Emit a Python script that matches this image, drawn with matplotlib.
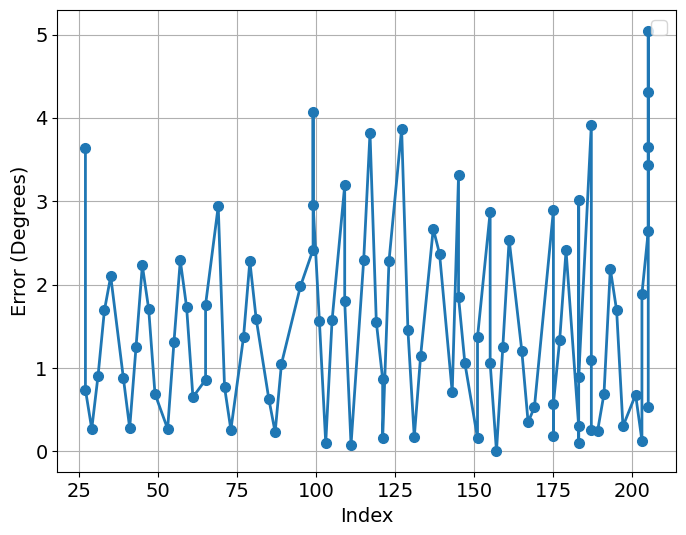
import matplotlib
matplotlib.use("Agg")
import matplotlib.pyplot as plt

# index / error pairs, in plotting order
index = [27, 27, 29, 31, 33, 35, 39, 41, 43, 45, 47, 49, 53, 55, 57, 59, 61, 65, 65,
         69, 71, 73, 77, 79, 81, 85, 87, 89, 95, 99, 99, 99, 101, 103, 105, 109, 109,
         111, 115, 117, 119, 121, 121, 123, 127, 129, 131, 133, 137, 139, 143, 145, 145,
         147, 151, 151, 155, 155, 157, 159, 161, 165, 167, 169, 175, 175, 175, 177, 179,
         183, 183, 183, 183, 187, 187, 187, 189, 191, 193, 195, 197, 201, 203, 203,
         205, 205, 205, 205, 205, 205]
error = [3.64, 0.74, 0.27, 0.91, 1.69, 2.10, 0.88, 0.28, 1.25, 2.23, 1.71, 0.69, 0.27, 1.31, 2.29, 1.73, 0.65, 0.86, 1.76,
         2.94, 0.77, 0.26, 1.37, 2.28, 1.59, 0.63, 0.23, 1.05, 1.98, 2.42, 4.07, 2.96, 1.56, 0.10, 1.57, 3.19, 1.80,
         0.08, 2.29, 3.82, 1.55, 0.87, 0.16, 2.28, 3.87, 1.45, 0.17, 1.14, 2.67, 2.37, 0.71, 3.31, 1.85,
         1.06, 0.16, 1.37, 2.87, 1.06, 0.00, 1.25, 2.54, 1.21, 0.35, 0.53, 2.89, 0.19, 0.57, 1.34, 2.41,
         0.30, 0.10, 3.02, 0.89, 3.92, 1.10, 0.26, 0.25, 0.69, 2.19, 1.69, 0.30, 0.68, 0.13, 1.89,
         2.64, 5.04, 4.31, 3.65, 3.44, 0.53]

plt.rcParams['font.size'] = 14

fig, ax = plt.subplots(figsize=(6.86, 5.35), dpi=100)
fig.subplots_adjust(left=0.0835, right=0.986, top=0.981, bottom=0.117)

ax.plot(index, error, marker='o', linewidth=2, markersize=7)
ax.set_xlabel("Index")
ax.set_ylabel("Error (Degrees)")
ax.grid(True)
ax.legend()

fig.savefig("out.png")
